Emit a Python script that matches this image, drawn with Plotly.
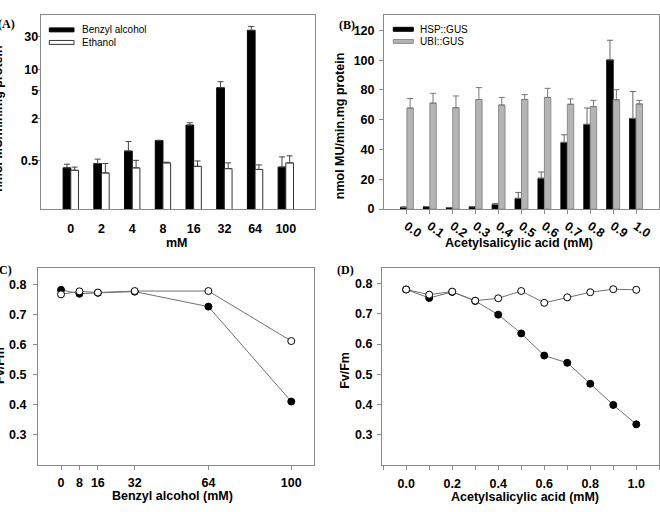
import plotly.graph_objects as go

# ---------------- data ----------------
# Panel A (log scale)
conc_a = ["0", "2", "4", "8", "16", "32", "64", "100"]
benzyl = [0.39, 0.45, 0.68, 0.96, 1.60, 5.5, 36.5, 0.40]
benzyl_err = [0.05, 0.07, 0.25, 0.01, 0.13, 1.2, 5.0, 0.16]
ethanol = [0.36, 0.33, 0.39, 0.46, 0.41, 0.38, 0.37, 0.46]
ethanol_err = [0.04, 0.12, 0.11, 0.01, 0.08, 0.08, 0.06, 0.12]
a_ticks = [0.5, 2, 5, 10, 30]

# Panel B
asa_b = ["0.0", "0.1", "0.2", "0.3", "0.4", "0.5", "0.6", "0.7", "0.8", "0.9", "1.0"]
hsp = [1.3, 1.7, 1.0, 1.6, 3.1, 7.2, 20.7, 44.8, 56.9, 100.2, 60.9]
hsp_err = [0, 0, 0, 0, 0.7, 4.0, 4.2, 5.1, 11.0, 13.2, 18.1]
ubi = [67.9, 71.2, 68.1, 73.6, 69.9, 73.6, 75.0, 70.4, 68.8, 73.4, 70.6]
ubi_err = [6.4, 6.6, 7.9, 8.0, 5.1, 3.3, 6.1, 3.6, 4.2, 6.8, 2.4]

# Panel C
benzyl_c = [0, 8, 16, 32, 64, 100]
c_filled = [0.782, 0.769, 0.772, 0.776, 0.726, 0.409]
c_open = [0.767, 0.777, 0.773, 0.778, 0.778, 0.611]

# Panel D
asa_d = [0.0, 0.1, 0.2, 0.3, 0.4, 0.5, 0.6, 0.7, 0.8, 0.9, 1.0]
d_filled = [0.780, 0.752, 0.772, 0.742, 0.697, 0.635, 0.562, 0.538, 0.469, 0.399, 0.335]
d_open = [0.780, 0.763, 0.773, 0.743, 0.751, 0.775, 0.736, 0.754, 0.771, 0.781, 0.779]

# ---------------- styling ----------------
W, H = 660, 512
SANS = "Liberation Sans, Arial, sans-serif"
SERIF = "Liberation Serif, Times New Roman, serif"
FRAME = "#8a8a8a"
BOLD = dict(family=SANS, size=12.5, color="black", weight="bold")

BENZ_STYLE = dict(color="black", line=dict(color="black", width=1))
ETH_STYLE = dict(color="white", line=dict(color="#333", width=1))
HSP_STYLE = dict(color="black", line=dict(color="black", width=1))
UBI_STYLE = dict(color="#b4b4b4", line=dict(color="#8c8c8c", width=1))


def px_x(p):
    return p / W


def px_y(p):
    return 1 - p / H


fig = go.Figure()

# Panel A bars
fig.add_trace(go.Bar(
    x=conc_a, y=benzyl, name="Benzyl alcohol", width=0.25, offset=-0.25,
    marker=BENZ_STYLE, showlegend=False,
    error_y=dict(type="data", symmetric=False, array=benzyl_err,
                 arrayminus=[0] * len(benzyl), color="#444", thickness=1, width=3),
    xaxis="x", yaxis="y"))
fig.add_trace(go.Bar(
    x=conc_a, y=ethanol, name="Ethanol", width=0.25, offset=0.0,
    marker=ETH_STYLE, showlegend=False,
    error_y=dict(type="data", symmetric=False, array=ethanol_err,
                 arrayminus=[0] * len(ethanol), color="#444", thickness=1, width=3),
    xaxis="x", yaxis="y"))

# Panel B bars
fig.add_trace(go.Bar(
    x=asa_b, y=hsp, name="HSP::GUS", width=0.28, offset=-0.28,
    marker=HSP_STYLE, showlegend=False,
    error_y=dict(type="data", symmetric=False, array=hsp_err,
                 arrayminus=[0] * len(hsp), color="#666", thickness=1, width=3),
    xaxis="x2", yaxis="y2"))
fig.add_trace(go.Bar(
    x=asa_b, y=ubi, name="UBI::GUS", width=0.28, offset=0.0,
    marker=UBI_STYLE, showlegend=False,
    error_y=dict(type="data", symmetric=False, array=ubi_err,
                 arrayminus=[0] * len(ubi), color="#777", thickness=1, width=3),
    xaxis="x2", yaxis="y2"))

# Panel C lines
for yv, fill, nm in [(c_filled, "black", "filled"), (c_open, "white", "open")]:
    fig.add_trace(go.Scatter(
        x=benzyl_c, y=yv, mode="lines+markers", name=nm,
        line=dict(color="#707070", width=1),
        marker=dict(symbol="circle", size=7, color=fill, line=dict(color="black", width=1)),
        xaxis="x3", yaxis="y3", showlegend=False))

# Panel D lines
for yv, fill, nm in [(d_filled, "black", "filled"), (d_open, "white", "open")]:
    fig.add_trace(go.Scatter(
        x=asa_d, y=yv, mode="lines+markers", name=nm,
        line=dict(color="#707070", width=1),
        marker=dict(symbol="circle", size=7, color=fill, line=dict(color="black", width=1)),
        xaxis="x4", yaxis="y4", showlegend=False))

axis_common = dict(showline=True, mirror=True, linecolor=FRAME, linewidth=1,
                   showgrid=False, zeroline=False, tickfont=BOLD,
                   tickcolor=FRAME, ticklen=4, ticks="outside")

fig.update_layout(
    width=W, height=H, autosize=False,
    margin=dict(l=0, r=0, t=0, b=0),
    paper_bgcolor="white", plot_bgcolor="white",
    barmode="overlay", showlegend=False,
    xaxis=dict(domain=[px_x(40.7), px_x(315)], anchor="y", type="category",
               range=[-0.98, 7.95], **{**axis_common, "ticks": "", "ticklen": 0},
               ticklabelstandoff=8),
    yaxis=dict(domain=[px_y(212), px_y(15)], anchor="x", type="log",
               range=[-1.0, 1.785], tickvals=a_ticks,
               ticktext=[str(v) for v in a_ticks], ticklabelstandoff=-4,
               **{**axis_common, "ticklen": 3}),
    xaxis2=dict(domain=[px_x(384), px_x(659)], anchor="y2", type="category",
                range=[-1, 11], tickangle=35, ticklabelstandoff=0, **axis_common),
    yaxis2=dict(domain=[px_y(212), px_y(15)], anchor="x2", range=[0, 130.5],
                tickvals=[0, 20, 40, 60, 80, 100, 120], ticklabelstandoff=2, **axis_common),
    xaxis3=dict(domain=[px_x(38), px_x(314.3)], anchor="y3", range=[-10, 110],
                tickvals=benzyl_c, ticklabelstandoff=2, **axis_common),
    yaxis3=dict(domain=[px_y(471.5), px_y(272)], anchor="x3", range=[0.197, 0.854],
                tickvals=[0.3, 0.4, 0.5, 0.6, 0.7, 0.8], ticklabelstandoff=4, **axis_common),
    xaxis4=dict(domain=[px_x(382), px_x(659.3)], anchor="y4", range=[-0.105, 1.1],
                tickvals=[0.0, 0.2, 0.4, 0.6, 0.8, 1.0], tickformat=".1f",
                minor=dict(dtick=0.1, tick0=0, ticks="outside", ticklen=4, tickcolor=FRAME),
                ticklabelstandoff=3, **axis_common),
    yaxis4=dict(domain=[px_y(471.7), px_y(272)], anchor="x4", range=[0.2, 0.85],
                tickvals=[0.3, 0.4, 0.5, 0.6, 0.7, 0.8], ticklabelstandoff=2, **axis_common),
)

ann = []
shapes = []
# legends (swatch + label) for panels A and B
legend_items = [
    ("Benzyl alcohol", BENZ_STYLE, 49.3, 74, 30.3, 80),
    ("Ethanol", ETH_STYLE, 49.3, 74, 43.0, 80),
    ("HSP::GUS", HSP_STYLE, 393.3, 413.3, 29.7, 418.3),
    ("UBI::GUS", UBI_STYLE, 393.3, 413.3, 42.0, 418.3),
]
for txt, sty, x0, x1, yc, xt in legend_items:
    shapes.append(dict(type="rect", xref="paper", yref="paper",
                       x0=px_x(x0), x1=px_x(x1), y0=px_y(yc + 2), y1=px_y(yc - 2),
                       fillcolor=sty["color"], line=dict(color=sty["line"]["color"], width=1)))
    ann.append(dict(text=txt, x=px_x(xt), y=px_y(yc), xref="paper", yref="paper",
                    showarrow=False, xanchor="left", yanchor="middle",
                    font=dict(family=SANS, size=10, color="black")))

# panel labels
for txt, x, y in [("(A)", 6, 24.5), ("(B)", 347, 25), ("(C)", 3.5, 273.5), ("(D)", 345, 273.5)]:
    ann.append(dict(text=txt, x=px_x(x), y=px_y(y), xref="paper", yref="paper",
                    showarrow=False, xanchor="center", yanchor="middle",
                    font=dict(family=SERIF, size=12, color="black", weight="bold")))
# axis titles
titles = [
    ("mM", 177, 246.7, 0),
    ("Acetylsalicylic acid (mM)", 518.5, 246.7, 0),
    ("Benzyl alcohol (mM)", 172, 502.7, 0),
    ("Acetylsalicylic acid (mM)", 525, 504.3, 0),
    ("nmol MU/min.mg protein", -1.5, 120, -90),
    ("nmol MU/min.mg protein", 340, 128, -90),
    ("Fv/Fm", 0, 371, -90),
    ("Fv/Fm", 345, 376, -90),
]
for txt, x, y, ang in titles:
    ann.append(dict(text=txt, x=px_x(x), y=px_y(y), xref="paper", yref="paper",
                    showarrow=False, xanchor="center", yanchor="middle", textangle=ang,
                    font=dict(family=SANS, size=12.5, color="black", weight="bold")))
fig.update_layout(annotations=ann, shapes=shapes)

PAGE_FIX = (
    "document.documentElement.style.margin='0';"
    "document.documentElement.style.overflow='hidden';"
    "document.body.style.margin='0';"
    "document.body.style.overflow='hidden';"
)
fig.write_html("out.html",
               config={"responsive": False, "displayModeBar": False},
               post_script=PAGE_FIX)
